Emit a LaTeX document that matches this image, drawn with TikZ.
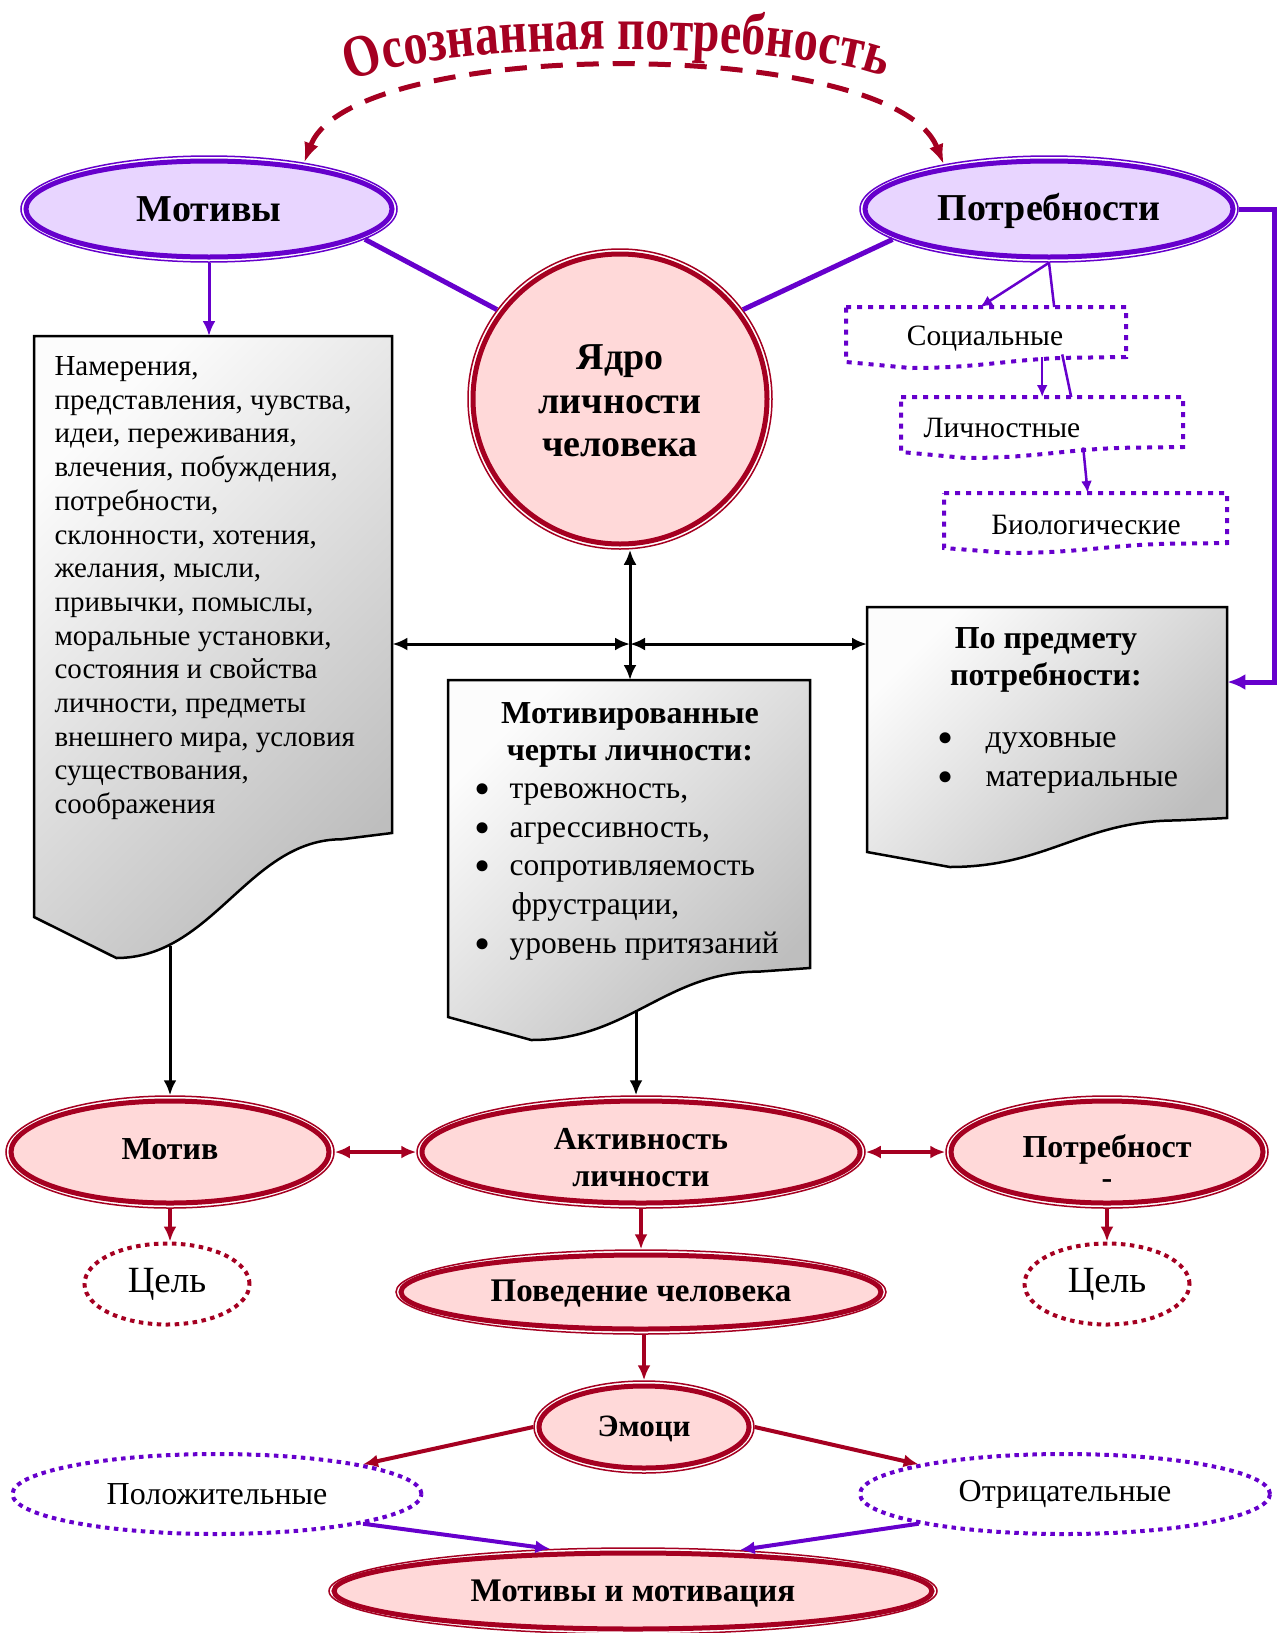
\documentclass[tikz,border=0pt]{standalone}
\usepackage{fontspec}
\setmainfont{Liberation Serif}
\newfontfamily\arcfont[FakeStretch=0.8]{Liberation Serif}
\usetikzlibrary{shapes.geometric,arrows.meta,calc,decorations.text}
\definecolor{deepviolet}{RGB}{102,0,204}
\definecolor{lavender}{RGB}{232,213,255}
\definecolor{wine}{RGB}{165,0,33}
\definecolor{blush}{RGB}{255,217,217}
\definecolor{paper}{RGB}{252,252,252}
\definecolor{shadow}{RGB}{190,190,190}
\newcommand{\fsz}[2]{\fontsize{#1pt}{#2pt}\selectfont}
\newcommand{\bul}[1]{\makebox[#1pt][l]{\raisebox{-6pt}{\fsz{46}{38}•}}}
%% ring: name, centre, width, height, colour, fill, text options, text
\newcommand{\drawring}[8]{
  \node[ellipse, draw=#5, line width=1.5pt, inner sep=0pt, minimum width=#3pt+10pt, minimum height=#4pt+10pt] (#1-o) at #2 {};
  \node[ellipse, draw=#5, fill=#6, line width=5pt, inner sep=0pt, minimum width=#3pt, minimum height=#4pt] (#1) at #2 {};
  \node[align=center, #7] (#1-t) at #2 {#8};
}
%% document sheet: name, style, left, top, right, right bottom, lowest, left bottom
\newcommand{\drawdoc}[8]{
  \path[#2] (#3,#4) -- (#5,#4) -- (#5,#6)
    -- ({#5-0.14*(#5-#3)},{#6+0.05*(#7-#6)})
    .. controls ({#5-0.40*(#5-#3)},{#6+0.05*(#7-#6)}) and ({#3+0.50*(#5-#3)},#7) .. ({#3+0.23*(#5-#3)},#7)
    -- (#3,#8) -- cycle;
  \node[inner sep=0pt, minimum width={(#5-#3)*1pt}, minimum height={(#6-#4)*1pt}, anchor=north west] (#1) at (#3,#4) {};
}
\tikzset{
  docbox/.style={draw=black, line width=2.5pt, top color=paper, bottom color=shadow, shading angle=45},
  dotbox/.style={draw=deepviolet, line width=4pt, dash pattern=on 5pt off 6pt},
  dotring/.style={ellipse, draw=#1, line width=4pt, dash pattern=on 4.5pt off 4.5pt, inner sep=0pt},
  twotips/.style={{Latex[length=15pt,width=13pt]}-{Latex[length=15pt,width=13pt]}},
  endtip/.style={-{Latex[length=15pt,width=13pt]}},
  smalltip/.style={-{Latex[length=12pt,width=11pt]}},
  blackline/.style={draw=black, line width=3pt},
  violine/.style={draw=deepviolet, line width=5pt},
  thinvio/.style={draw=deepviolet, line width=2.5pt},
  wineline/.style={draw=wine, line width=3.5pt},
}
\begin{document}
\begin{tikzpicture}[x=1pt,y=-1pt]
  \useasboundingbox (0,0) rectangle (1279,1633);

  %% top row
  \drawring{mot}{(209,209)}{366}{96}{deepviolet}{lavender}{font=\bfseries\fsz{38}{44}}{Мотивы}
  \drawring{potr}{(1049,209)}{368}{96}{deepviolet}{lavender}{font=\bfseries\fsz{38}{44}, yshift=-2pt}{Потребности}
  \drawring{yadro}{(620,399)}{294}{290}{wine}{blush}{font=\bfseries\fsz{38}{43.7}, yshift=-2pt}{Ядро\\личности\\человека}

  \path[decorate, decoration={text along path, text align=center,
      text={|\arcfont\bfseries\fontsize{60pt}{64pt}\selectfont\color{wine}|Осознанная потребность}}]
    (352,80) .. controls (450,40) and (780,40) .. (882,76);
  \draw[wine, line width=5pt, dash pattern=on 22pt off 14pt,
      {Latex[length=20pt,width=15pt]}-{Latex[length=20pt,width=15pt]}]
    (mot-o.26) .. controls (352,36) and (893,36) .. (potr-o.157);

  \draw[violine] (mot-o.-11) -- (yadro-o.144);
  \draw[violine] (potr-o.191) -- (yadro-o.36);

  %% sheets
  \drawdoc{docL}{docbox}{34}{336}{392}{833}{958}{917}
  \drawdoc{docC}{docbox}{448}{680}{810}{968}{1040}{1017}
  \drawdoc{docR}{docbox}{867}{607}{1227}{818}{867}{852}

  \node[anchor=north west, align=left, font=\fsz{29}{33.7}] (docL-t) at (51,353)
    {Намерения,\\представления, чувства,\\идеи, переживания,\\влечения, побуждения,\\потребности,\\склонности, хотения,\\желания, мысли,\\привычки, помыслы,\\моральные установки,\\состояния и свойства\\личности, предметы\\внешнего мира, условия\\существования,\\соображения};
  \node[align=center, font=\bfseries\fsz{32}{37}] (docC-h) at (630,735) {Мотивированные\\черты личности:};
  \node[anchor=north west, align=left, font=\fsz{31.5}{38.7}] (docC-t) at (471,780)
    {\bul{35}тревожность,\\\bul{35}агрессивность,\\\bul{35}сопротивляемость\\\hspace*{37pt}фрустрации,\\\bul{35}уровень притязаний};
  \node[align=center, font=\bfseries\fsz{32}{37}] (docR-h) at (1046,660) {По предмету\\потребности:};
  \node[anchor=north west, align=left, font=\fsz{32}{39}] (docR-t) at (934,729)
    {\bul{48}духовные\\\bul{48}материальные};

  %% kinds of needs
  \drawdoc{soc}{dotbox}{846}{307}{1126}{357}{368}{362}
  \drawdoc{lich}{dotbox}{901}{397}{1183}{447}{458}{452}
  \drawdoc{biol}{dotbox}{944}{493}{1227}{543}{553}{548}
  \node[font=\fsz{29.5}{34}] (soc-t) at (985,339) {Социальные};
  \node[font=\fsz{29.5}{34}] (lich-t) at (1002,428) {Личностные};
  \node[font=\fsz{29.5}{34}] (biol-t) at (1086,525) {Биологические};

  \draw[thinvio, smalltip] (potr-o.south) -- ($(soc.north)+(-6,0)$);
  \draw[thinvio] (potr-o.south) -- ($(soc.north)+(68,0)$);
  \draw[thinvio, smalltip] (lich.north |- soc.south) -- (lich.north);
  \draw[thinvio] ($(soc.south)+(76,-3)$) -- ($(lich.north)+(29,0)$);
  \draw[thinvio, smalltip] ($(lich.south)+(41,0)$) -- ($(biol.north)+(2,0)$);

  \draw[thinvio, line width=3pt, endtip] (mot-o.south) -- (mot-o.south |- docL.north);
  \coordinate (rbend) at (1274,682);
  \draw[violine, -{Latex[length=18pt,width=16pt]}] (potr-o.east) -| (rbend) -- (rbend -| docR.east);

  %% black links
  \coordinate (hub) at (630,644);
  \draw[blackline, twotips] (hub |- yadro-o.south) -- (hub |- docC.north);
  \draw[blackline, twotips] (hub -| docL.east) -- (hub);
  \draw[blackline, twotips] (hub) -- (hub -| docR.west);

  %% lower row
  \drawring{motiv}{(170,1152)}{318}{102}{wine}{blush}{font=\bfseries\fsz{32}{37}, yshift=3pt}{Мотив}
  \drawring{act}{(641,1152)}{438}{102}{wine}{blush}{font=\bfseries\fsz{32}{37}, yshift=-6pt}{Активность\\личности}
  \drawring{potn}{(1107,1152)}{312}{102}{wine}{blush}{font=\bfseries\fsz{32}{37}, yshift=3pt}{Потребност}
  \node[font=\bfseries\fsz{32}{37}] (potn-d) at (1107,1184) {-};
  \drawring{beh}{(641,1292)}{480}{74}{wine}{blush}{font=\bfseries\fsz{33}{38}, yshift=-2pt}{Поведение человека}
  \drawring{emo}{(644,1427)}{210}{82}{wine}{blush}{font=\bfseries\fsz{31}{36}, yshift=-2pt}{Эмоци}
  \drawring{motmot}{(633,1591)}{598}{76}{wine}{blush}{font=\bfseries\fsz{33}{38}, yshift=-3pt}{Мотивы и мотивация}

  \node[dotring=wine, minimum width=165pt, minimum height=81pt, font=\fsz{37}{40}] (goal1) at (167,1284) {Цель};
  \node[dotring=wine, minimum width=165pt, minimum height=81pt, font=\fsz{37}{40}] (goal2) at (1107,1284) {Цель};
  \node[dotring=deepviolet, minimum width=409pt, minimum height=80pt, font=\fsz{32}{36}] (pos) at (217,1494) {Положительные};
  \node[dotring=deepviolet, minimum width=410pt, minimum height=80pt, font=\fsz{32}{36}] (neg) at (1065,1494) {Отрицательные};

  \coordinate (docL-tail) at (170,946);
  \coordinate (docC-tail) at (636,1010);
  \draw[blackline, endtip] (docL-tail) -- (docL-tail |- motiv-o.north);
  \draw[blackline, endtip] (docC-tail) -- (docC-tail |- act-o.north);

  \draw[wineline, twotips] (motiv-o) -- (act-o);
  \draw[wineline, twotips] (act-o) -- (potn-o);
  \draw[wineline, endtip] (motiv-o.south) -- (motiv-o.south |- goal1.north);
  \draw[wineline, endtip] (potn-o.south) -- (potn-o.south |- goal2.north);
  \draw[wineline, endtip] (act-o) -- (beh-o);
  \draw[wineline, endtip] (beh-o.south -| emo) -- (emo-o.north);
  \draw[wineline, line width=4pt, endtip] (emo-o.west) -- (pos.north east);
  \draw[wineline, line width=4pt, endtip] (emo-o.east) -- (neg.north west);
  \draw[violine, line width=4pt, endtip] (pos.south east) -- (motmot-o.153);
  \draw[violine, line width=4pt, endtip] (neg.south west) -- (motmot-o.21);
\end{tikzpicture}
\end{document}
